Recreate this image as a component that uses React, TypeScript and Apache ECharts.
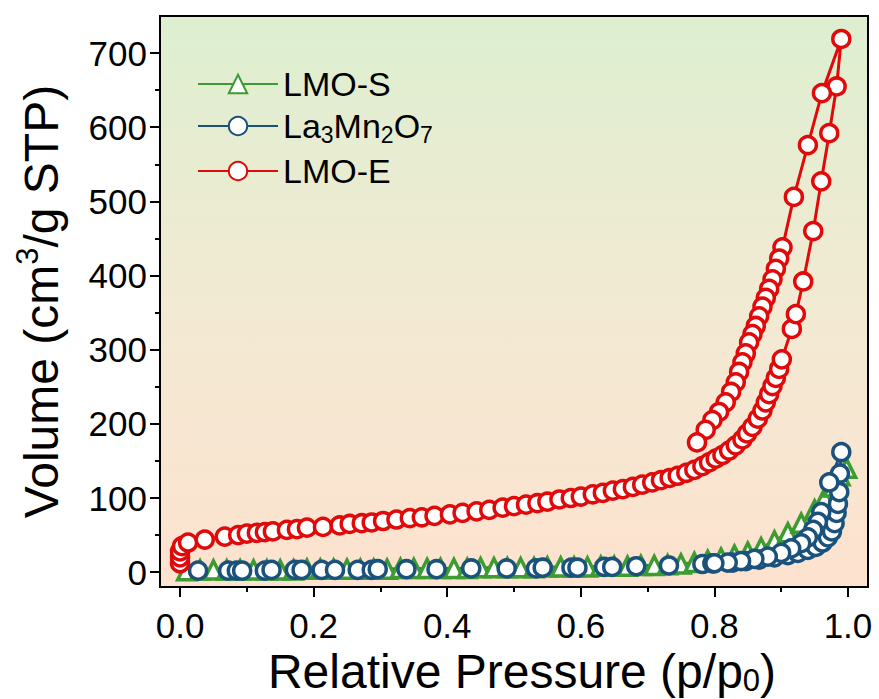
import React, { useEffect, useRef } from "react";
import * as echarts from "echarts";

const FONT = '"Liberation Sans", Arial, sans-serif';

// Legend / series names
const seriesNames = ["LMO-S", "La3Mn2O7", "LMO-E"];

// Axis ticks
const xTickValues = [0, 0.2, 0.4, 0.6, 0.8, 1.0];
const xMinorTickValues = [0.1, 0.3, 0.5, 0.7, 0.9];
const yTickValues = [0, 100, 200, 300, 400, 500, 600, 700];
const yMinorTickValues = [50, 150, 250, 350, 450, 550, 650];

// LMO-E (red) adsorption branch
const redAdsP = [0.0, 0.0, 0.0, 0.003, 0.012, 0.037, 0.067, 0.087, 0.1, 0.115, 0.127, 0.139, 0.16, 0.175, 0.19, 0.214, 0.239, 0.254, 0.272, 0.287, 0.304, 0.324, 0.344, 0.362, 0.381, 0.404, 0.423, 0.444, 0.463, 0.483, 0.5, 0.518, 0.535, 0.55, 0.568, 0.585, 0.6, 0.618, 0.633, 0.648, 0.663, 0.678, 0.692, 0.707, 0.72, 0.733, 0.745, 0.758, 0.77, 0.782, 0.792, 0.802, 0.812, 0.822, 0.832, 0.842, 0.849, 0.857, 0.865, 0.872, 0.877, 0.882, 0.887, 0.892, 0.897, 0.901, 0.916, 0.922, 0.933, 0.948, 0.96, 0.972, 0.983, 0.99];
const redAdsV = [12, 20, 28, 35, 40, 44, 48, 50, 52, 53, 54, 55, 57, 58, 60, 61, 63, 65, 66, 67, 69, 71, 73, 74, 76, 78, 80, 82, 84, 87, 89, 91, 93, 95, 98, 100, 102, 105, 107, 110, 112, 115, 118, 121, 124, 127, 130, 134, 138, 143, 148, 153, 158, 164, 171, 179, 187, 196, 207, 218, 229, 240, 251, 262, 274, 287, 328, 348, 392, 460, 527, 592, 655, 719];
// LMO-E (red) desorption branch
const redDesP = [0.961, 0.94, 0.919, 0.902, 0.897, 0.892, 0.887, 0.882, 0.877, 0.872, 0.867, 0.862, 0.857, 0.852, 0.847, 0.842, 0.837, 0.832, 0.825, 0.817, 0.807, 0.797, 0.787, 0.774];
const redDesV = [646, 576, 506, 438, 423, 409, 395, 382, 370, 358, 345, 332, 321, 310, 295, 283, 270, 256, 243, 229, 216, 205, 192, 175];

// La3Mn2O7 (blue) adsorption branch
const blueAdsP = [0.027, 0.072, 0.085, 0.093, 0.127, 0.137, 0.172, 0.182, 0.212, 0.232, 0.266, 0.287, 0.296, 0.339, 0.384, 0.436, 0.489, 0.533, 0.543, 0.586, 0.595, 0.635, 0.647, 0.683, 0.732, 0.782, 0.797, 0.827, 0.847, 0.867, 0.89, 0.91, 0.925, 0.94, 0.952, 0.962, 0.97, 0.976, 0.98, 0.983, 0.985, 0.987, 0.988, 0.99];
const blueAdsV = [2, 2, 2, 2, 2, 3, 3, 3, 3, 3, 3, 3, 4, 4, 4, 5, 5, 5, 6, 6, 6, 7, 7, 8, 9, 11, 12, 13, 15, 17, 20, 23, 26, 30, 34, 40, 47, 55, 66, 80, 92, 108, 133, 162];
// La3Mn2O7 (blue) desorption branch
const blueDesP = [0.972, 0.96, 0.955, 0.948, 0.94, 0.93, 0.915, 0.9, 0.88, 0.86, 0.84, 0.82, 0.8];
const blueDesV = [121, 81, 68, 57, 47, 39, 32, 26, 21, 18, 15, 13, 12];

// LMO-S (green)
const greenP = [0.01, 0.03, 0.05, 0.07, 0.09, 0.11, 0.13, 0.15, 0.17, 0.19, 0.21, 0.23, 0.25, 0.27, 0.29, 0.31, 0.33, 0.35, 0.37, 0.39, 0.41, 0.43, 0.45, 0.47, 0.49, 0.51, 0.53, 0.55, 0.57, 0.59, 0.61, 0.63, 0.65, 0.67, 0.69, 0.71, 0.73, 0.75, 0.77, 0.79, 0.81, 0.83, 0.85, 0.87, 0.89, 0.91, 0.93, 0.95, 0.965, 0.978, 0.988, 0.998];
const greenV = [2, 3, 3, 3, 3, 3, 3, 3, 3, 4, 4, 4, 4, 4, 4, 4, 5, 5, 5, 5, 5, 5, 6, 6, 6, 6, 6, 7, 7, 7, 7, 8, 8, 8, 9, 9, 10, 11, 13, 16, 19, 23, 27, 33, 42, 53, 66, 84, 100, 115, 130, 140];

const COLORS = { green: "#3c9c32", blue: "#1b527c", red: "#e00a0a" };

function zip(xs: number[], ys: number[]) {
  return xs.map((x, i) => [x, ys[i]]);
}

export default function App() {
  const ref = useRef<HTMLDivElement>(null);
  useEffect(() => {
    if (!ref.current) return;
    const chart = echarts.init(ref.current, null, { renderer: "svg" });
    const tickLabel = { fontFamily: FONT, fontSize: 35, color: "#000" };
    const mkSeries = (name: string, data: number[][], color: string, symbol: string, size: number) => ({
      name,
      type: "line",
      data,
      symbol,
      symbolSize: size,
      showAllSymbol: true,
      lineStyle: { color, width: 3 },
      itemStyle: { color: "#fff", borderColor: color, borderWidth: 3.5 },
      emphasis: { disabled: true },
      z: 2,
    });
    const option: any = {
      animation: false,
      backgroundColor: "#fff",
      grid: {
        left: 160,
        right: 11,
        top: 16,
        bottom: 112,
        show: true,
        containLabel: false,
        outerBoundsMode: "none",
        borderColor: "#000",
        borderWidth: 2,
        backgroundColor: new echarts.graphic.LinearGradient(0, 0, 0, 1, [
          { offset: 0, color: "#ddefd0" },
          { offset: 0.5, color: "#f2ead3" },
          { offset: 1, color: "#fde2cf" },
        ]),
      },
      legend: {
        orient: "vertical",
        left: 192,
        top: 62,
        itemWidth: 80,
        itemHeight: 23,
        itemGap: 8,
        data: seriesNames,
        selectedMode: false,
        formatter: (name: string) =>
          name === "La3Mn2O7" ? "{n|La}{s|3}{n|Mn}{s|2}{n|O}{s|7}" : "{n|" + name + "}",
        textStyle: {
          color: "#000",
          fontFamily: FONT,
          rich: {
            n: { fontFamily: FONT, fontSize: 34, lineHeight: 40, color: "#000" },
            s: { fontFamily: FONT, fontSize: 23, lineHeight: 20, verticalAlign: "bottom", color: "#000" },
          },
        },
      },
      xAxis: [
        {
          type: "value",
          min: -0.03,
          max: 1.03,
          name: "{n|Relative Pressure (p/p}{s|0}{n|)}",
          nameLocation: "middle",
          nameGap: 40,
          nameTextStyle: {
            padding: [0, 0, 0, 16],
            rich: {
              n: { fontFamily: FONT, fontSize: 48, lineHeight: 48, color: "#000" },
              s: { fontFamily: FONT, fontSize: 31, lineHeight: 20, verticalAlign: "bottom", color: "#000" },
            },
          },
          axisLine: { show: true, onZero: false, lineStyle: { color: "#000", width: 2 } },
          axisTick: { show: true, inside: false, length: 10, lineStyle: { color: "#000", width: 2 }, customValues: xTickValues },
          axisLabel: { ...tickLabel, margin: 21, customValues: xTickValues, formatter: (v: number) => v.toFixed(1) },
          splitLine: { show: false },
        },
        {
          type: "value",
          position: "bottom",
          min: -0.03,
          max: 1.03,
          axisLine: { show: false, onZero: false },
          axisTick: { show: true, inside: false, length: 5, lineStyle: { color: "#000", width: 2 }, customValues: xMinorTickValues },
          axisLabel: { show: false },
          splitLine: { show: false },
        },
      ],
      yAxis: [
        {
          type: "value",
          min: -20,
          max: 750,
          name: "{n|Volume (cm}{s|3}{n|/g STP)}",
          nameLocation: "middle",
          nameGap: 90,
          nameMoveOverlap: false,
          nameTextStyle: {
            rich: {
              n: { fontFamily: FONT, fontSize: 48, lineHeight: 58, color: "#000" },
              s: { fontFamily: FONT, fontSize: 31, lineHeight: 30, verticalAlign: "top", color: "#000" },
            },
          },
          axisLine: { show: true, onZero: false, lineStyle: { color: "#000", width: 2 } },
          axisTick: { show: true, inside: false, length: 10, lineStyle: { color: "#000", width: 2 }, customValues: yTickValues },
          axisLabel: { ...tickLabel, margin: 13, customValues: yTickValues },
          splitLine: { show: false },
        },
        {
          type: "value",
          position: "left",
          min: -20,
          max: 750,
          axisLine: { show: false, onZero: false },
          axisTick: { show: true, inside: false, length: 5, lineStyle: { color: "#000", width: 2 }, customValues: yMinorTickValues },
          axisLabel: { show: false },
          splitLine: { show: false },
        },
      ],
      series: [
        mkSeries("LMO-S", zip(greenP, greenV), COLORS.green, "triangle", 18),
        mkSeries("La3Mn2O7", [...zip(blueAdsP, blueAdsV), ...zip(blueDesP, blueDesV)], COLORS.blue, "circle", 17),
        mkSeries("LMO-E", [...zip(redAdsP, redAdsV), ...zip(redDesP, redDesV)], COLORS.red, "circle", 17),
      ],
    };
    chart.setOption(option);
    return () => chart.dispose();
  }, []);
  return (
    <div
      ref={ref}
      style={{ position: "fixed", left: 0, top: 0, width: 879, height: 699, background: "#fff" }}
    />
  );
}
